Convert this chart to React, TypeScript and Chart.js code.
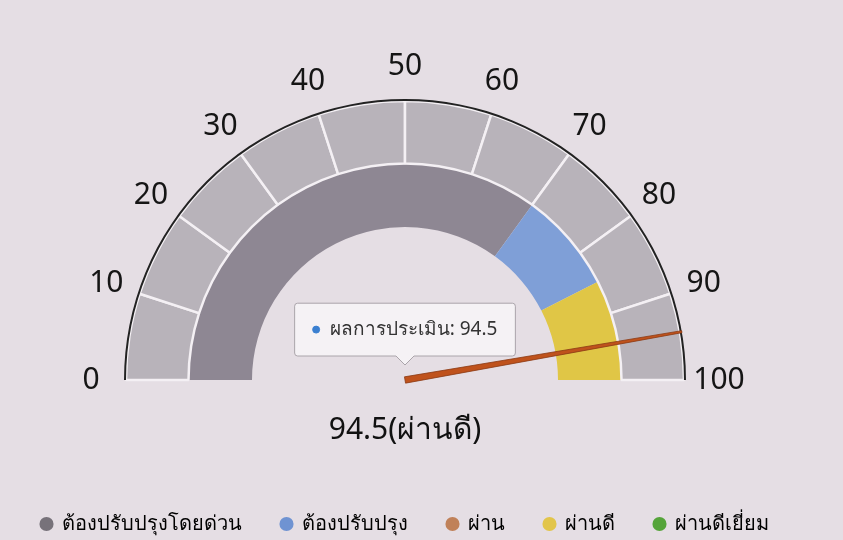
import React, { useEffect, useRef } from 'react';
import { Chart, registerables, Tooltip } from 'chart.js';
Chart.register(...registerables);

const legendLabels = ['ต้องปรับปรุงโดยด่วน', 'ต้องปรับปรุง', 'ผ่าน', 'ผ่านดี', 'ผ่านดีเยี่ยม'];
const legendColors = ['#77727a', '#6f93d2', '#c08159', '#e2c54a', '#55a43a'];
const bandValues = [70, 15, 0, 15, 0];
const bandColors = ['#8e8793', '#7f9fd7', '#c08159', '#e0c646', '#55a43a'];
const scaleTicks = [0, 10, 20, 30, 40, 50, 60, 70, 80, 90, 100];
const scaleSegments = [10, 10, 10, 10, 10, 10, 10, 10, 10, 10];
const score = 94.5;
const scoreLabel = 'ผ่านดี';
const tooltipLabel = 'ผลการประเมิน';
const FONT = "'Noto Sans', 'DejaVu Sans', sans-serif";

(Tooltip.positioners as any).gaugeCenter = function () {
  const chart = (this as any).chart;
  const arc: any = chart.getDatasetMeta(0).data[0];
  return { x: arc.x, y: arc.y - 13 };
};

const gaugeDecor = {
  id: 'gaugeDecor',
  afterDatasetsDraw(chart: any) {
    const arc: any = chart.getDatasetMeta(0).data[0];
    if (!arc) return;
    const cx = arc.x, cy = arc.y, r = arc.outerRadius;
    const ctx = chart.ctx;
    ctx.save();
    ctx.fillStyle = '#151515';
    ctx.font = `30px ${FONT}`;
    ctx.textAlign = 'center';
    ctx.textBaseline = 'middle';
    const min = scaleTicks[0], max = scaleTicks[scaleTicks.length - 1];
    scaleTicks.forEach((t) => {
      const a = Math.PI * (1 + (t - min) / (max - min));
      const rr = r + 33;
      ctx.fillText(String(t), cx + rr * Math.cos(a), cy + rr * Math.sin(a));
    });
    const a = Math.PI * (1 + (score - min) / (max - min));
    const tx = cx + r * Math.cos(a), ty = cy + r * Math.sin(a);
    const nx = -Math.sin(a), ny = Math.cos(a);
    const bw = 3.2, tw = 1;
    ctx.beginPath();
    ctx.moveTo(cx + nx * bw, cy + ny * bw);
    ctx.lineTo(tx + nx * tw, ty + ny * tw);
    ctx.lineTo(tx - nx * tw, ty - ny * tw);
    ctx.lineTo(cx - nx * bw, cy - ny * bw);
    ctx.closePath();
    ctx.fillStyle = '#bf521c';
    ctx.fill();
    ctx.strokeStyle = '#8a3a14';
    ctx.lineWidth = 0.8;
    ctx.stroke();
    ctx.restore();
  },
};

export default function App() {
  const ref = useRef<HTMLCanvasElement>(null);
  useEffect(() => {
    if (!ref.current) return;
    const chart = new Chart(ref.current, {
      type: 'doughnut',
      data: {
        labels: legendLabels,
        datasets: [
          { data: [100], backgroundColor: ['#222222'], borderWidth: 0, weight: 2 } as any,
          { data: scaleSegments, backgroundColor: scaleSegments.map(() => '#b8b3ba'), borderColor: '#f4f0f4', borderWidth: 2.5, weight: 62.5 } as any,
          { data: bandValues, backgroundColor: bandColors, borderWidth: 0, weight: 63.5 } as any,
        ],
      },
      options: {
        animation: false,
        responsive: true,
        maintainAspectRatio: false,
        rotation: -90,
        circumference: 180,
        cutout: '54.45%',
        events: [],
        layout: { padding: { left: 0, right: 33, top: 99, bottom: -4 } },
        plugins: {
          title: {
            display: true,
            position: 'bottom',
            weight: 500,
            text: `${score}(${scoreLabel})`,
            color: '#111111',
            font: { family: FONT, size: 30, weight: 'normal' },
            padding: { top: 32, bottom: 26 },
          } as any,
          legend: {
            position: 'bottom',
            labels: {
              usePointStyle: true,
              pointStyle: 'circle',
              boxWidth: 10,
              boxHeight: 10,
              padding: 40,
              color: '#3c3c3c',
              font: { family: FONT, size: 20 },
              generateLabels: () =>
                legendLabels.map((t, i) => ({
                  text: t,
                  fillStyle: legendColors[i],
                  strokeStyle: legendColors[i],
                  lineWidth: 0,
                  pointStyle: 'circle',
                  hidden: false,
                  index: i,
                  datasetIndex: 2,
                })),
            },
          },
          tooltip: {
            position: 'gaugeCenter' as any,
            yAlign: 'bottom',
            xAlign: 'center',
            backgroundColor: 'rgba(246,243,246,0.96)',
            borderColor: '#aaa4aa',
            borderWidth: 1,
            cornerRadius: 3,
            caretSize: 9,
            caretPadding: 2,
            padding: { left: 18, right: 18, top: 15, bottom: 15 },
            bodyColor: '#333333',
            bodyFont: { family: FONT, size: 19 },
            usePointStyle: true,
            boxWidth: 7,
            boxHeight: 7,
            boxPadding: 8,
            displayColors: true,
            callbacks: {
              title: () => '',
              label: () => `${tooltipLabel}: ${score}`,
              labelColor: () => ({ borderColor: '#3a7fd0', backgroundColor: '#3a7fd0', borderWidth: 0 }) as any,
              labelPointStyle: () => ({ pointStyle: 'circle', rotation: 0 }) as any,
            },
          } as any,
        },
      },
      plugins: [gaugeDecor],
    });
    chart.tooltip?.setActiveElements([{ datasetIndex: 2, index: 3 }], { x: 405, y: 360 });
    chart.update();
    return () => chart.destroy();
  }, []);
  return (
    <div style={{ position: 'fixed', left: 0, top: 0, width: 843, height: 540, background: '#e5dee4' }}>
      <canvas ref={ref} />
    </div>
  );
}
